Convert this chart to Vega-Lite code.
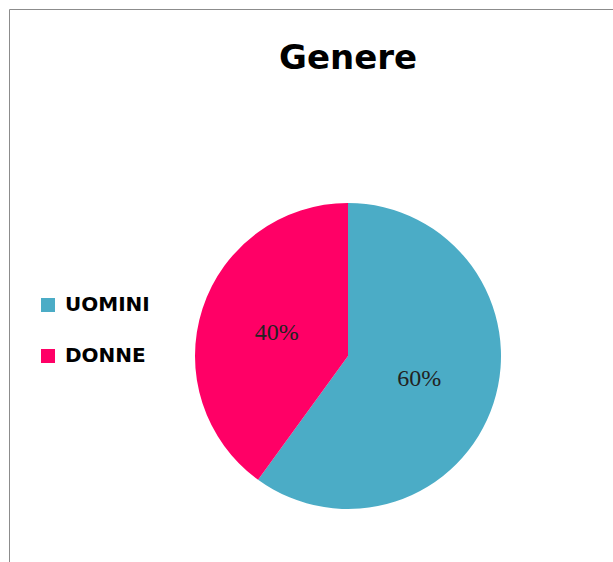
{
  "$schema": "https://vega.github.io/schema/vega-lite/v6.json",
  "autosize": {"type": "none"},
  "width": 678,
  "height": 694,
  "padding": {"left": 9, "top": 9, "right": 0, "bottom": 0},
  "background": "white",
  "view": {"stroke": "#8c8c8c", "strokeWidth": 1, "fill": "white"},
  "title": {
    "text": "Genere",
    "font": "DejaVu Sans",
    "fontSize": 34,
    "fontWeight": "bold",
    "color": "#000000",
    "anchor": "middle",
    "baseline": "alphabetic",
    "offset": -94
  },
  "data": {
    "values": [
      {"genere": "UOMINI", "valore": 60, "rank": 1, "etichetta": "60%"},
      {"genere": "DONNE", "valore": 40, "rank": 2, "etichetta": "40%"}
    ]
  },
  "encoding": {
    "theta": {"field": "valore", "type": "quantitative", "stack": true},
    "order": {"field": "rank", "type": "quantitative"}
  },
  "layer": [
    {
      "mark": {"type": "arc", "radius": 153, "stroke": null},
      "encoding": {
        "color": {
          "field": "genere",
          "type": "nominal",
          "scale": {"domain": ["UOMINI", "DONNE"], "range": ["#4BACC6", "#FF0066"]},
          "legend": {
            "title": null,
            "orient": "none",
            "legendX": 29,
            "legendY": 286,
            "symbolType": "square",
            "symbolSize": 196,
            "symbolStrokeWidth": 0,
            "labelFont": "DejaVu Sans",
            "labelFontSize": 20,
            "labelFontWeight": "bold",
            "labelColor": "#000000",
            "labelOffset": 7,
            "rowPadding": 31
          }
        }
      }
    },
    {
      "mark": {"type": "text", "radius": 75, "font": "Liberation Serif", "fontSize": 24, "color": "#222222"},
      "encoding": {
        "text": {"field": "etichetta", "type": "nominal"}
      }
    }
  ]
}
